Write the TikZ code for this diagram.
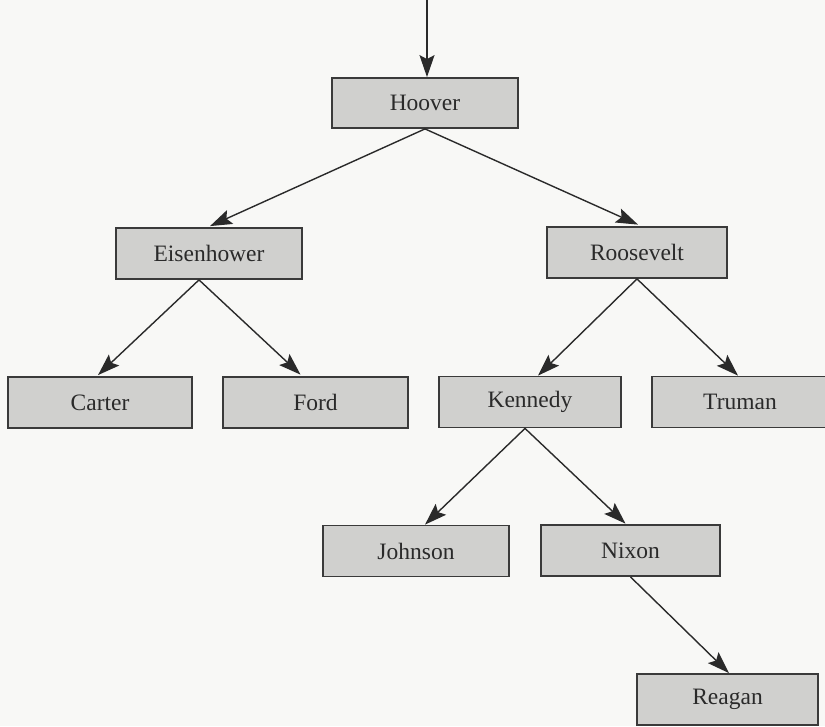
\documentclass[tikz,border=0pt]{standalone}
\usepackage{fontspec}
\setmainfont{Liberation Serif}
\usetikzlibrary{arrows.meta}
\definecolor{boxfill}{HTML}{D0D0CE}
\definecolor{boxline}{HTML}{3A3A3A}
\definecolor{inkgray}{HTML}{2A2A2A}
\definecolor{paper}{HTML}{F8F8F6}
\begin{document}
\begin{tikzpicture}[x=1pt,y=-1pt,
  pres/.style={draw=boxline, line width=1.8pt, fill=boxfill, text=inkgray,
    minimum height=51pt, inner sep=0pt, font=\fontsize{23.5}{26}\selectfont},
  link/.style={draw=inkgray, line width=1.4pt,
    -{Stealth[length=22pt,width=15pt,inset=4pt]}}]
  % page
  \fill[paper] (0,0) rectangle (825,726);
  \useasboundingbox (0,0) rectangle (825,726);

  % presidents
  \node[pres, minimum width=186pt, minimum height=50pt] (hoover) at (425,103) {Hoover};
  \node[pres, minimum width=186pt] (eisen) at (209,253.5) {Eisenhower};
  \node[pres, minimum width=180pt] (roose) at (637,252.5) {Roosevelt};
  \node[pres, minimum width=184pt] (carter) at (100,402.5) {Carter};
  \node[pres, minimum width=185pt] (ford) at (315.5,402.5) {Ford};
  \node[pres, minimum width=182pt] (kennedy) at (530,402) {Kennedy};
  \node[pres, minimum width=190pt] (truman) at (747,402) {};
  \node[text=inkgray, font=\fontsize{23.5}{26}\selectfont] (trumanlabel) at (740,402) {Truman};
  \node[pres, minimum width=186pt] (johnson) at (416,551) {Johnson};
  \node[pres, minimum width=179pt] (nixon) at (630.5,550.5) {Nixon};
  \node[pres, minimum width=181pt] (reagan) at (727.5,699.5) {Reagan};

  % incoming arrow
  \coordinate (entry) at (427,0);
  \draw[link] (entry) -- ([xshift=2pt]hoover.north);

  % tree connectors
  \draw[link] (hoover.south) -- ([xshift=1pt,yshift=1pt]eisen.north);
  \draw[link] (hoover.south) -- ([xshift=1pt,yshift=1.5pt]roose.north);
  \draw[link] ([xshift=-10pt]eisen.south) -- ([xshift=-2pt,yshift=1pt]carter.north);
  \draw[link] ([xshift=-10pt]eisen.south) -- ([xshift=-15pt,yshift=1.5pt]ford.north);
  \draw[link] (roose.south) -- ([xshift=8pt]kennedy.north);
  \draw[link] (roose.south) -- ([xshift=-9pt]truman.north);
  \draw[link] ([xshift=-5pt]kennedy.south) -- ([xshift=9pt]johnson.north);
  \draw[link] ([xshift=-5pt]kennedy.south) -- ([xshift=-5pt,yshift=0.5pt]nixon.north);
  \draw[link] (nixon.south) -- ([xshift=1.5pt]reagan.north);
\end{tikzpicture}
\end{document}
